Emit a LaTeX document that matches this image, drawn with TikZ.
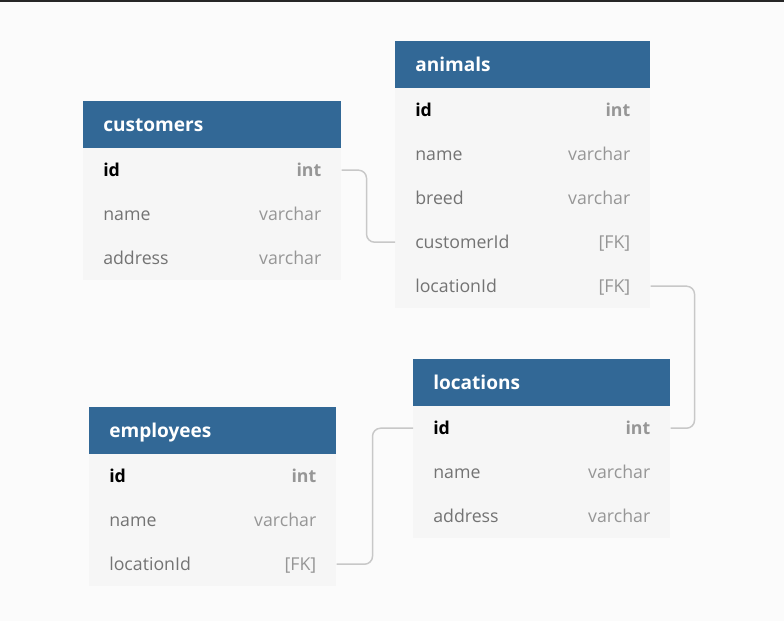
\documentclass[tikz,border=0pt]{standalone}
\usepackage{fontspec}
\setmainfont{Open Sans}
\usepackage{xcolor}
\usetikzlibrary{positioning}

\definecolor{headblue}{RGB}{50,104,150}
\definecolor{bodygray}{RGB}{246,246,246}
\definecolor{pagegray}{RGB}{251,251,251}
\definecolor{fieldgray}{RGB}{115,115,115}
\definecolor{typegray}{RGB}{150,150,150}
\definecolor{linkgray}{RGB}{200,200,200}
\newcommand{\pk}[2]{\textbf{\color{black}#1}\hfill\textbf{\color{typegray}#2}}
\newcommand{\fld}[2]{#1\hfill{\color{typegray}#2}}

\begin{document}
\begin{tikzpicture}[x=0.75pt, y=-0.75pt,
        cell/.style={anchor=north west, inner xsep=15pt, inner ysep=0pt, align=left,
            text height=12.5pt, text depth=3pt, font=\fontsize{13.3}{16}\selectfont},
        head/.style={cell, fill=headblue, text=white, minimum height=35.25pt,
            font=\fontsize{14.3}{17}\selectfont\bfseries},
        row/.style={cell, fill=bodygray, text=fieldgray, minimum height=33.1pt, below=-0.5pt of #1},
        link/.style={linkgray, line width=1.1pt, rounded corners=6pt}]
        \useasboundingbox (0, 0) rectangle (784, 621);
        \fill[pagegray] (0, 0) rectangle (784, 621);
        \fill[black!85] (0, 0) rectangle (784, 1.5);
        % customers
        \node[head, text width=163.5pt] (cust) at (83, 101) {customers};
        \node[row=cust, text width=163.5pt] (cust-id) {\pk{id}{int}};
        \node[row=cust-id, text width=163.5pt] (cust-name) {\fld{name}{varchar}};
        \node[row=cust-name, text width=163.5pt] (cust-addr) {\fld{address}{varchar}};
        % animals
        \node[head, text width=161.25pt] (anim) at (395, 41) {animals};
        \node[row=anim, text width=161.25pt] (anim-id) {\pk{id}{int}};
        \node[row=anim-id, text width=161.25pt] (anim-name) {\fld{name}{varchar}};
        \node[row=anim-name, text width=161.25pt] (anim-breed) {\fld{breed}{varchar}};
        \node[row=anim-breed, text width=161.25pt] (anim-cust) {\fld{customerId}{[FK]}};
        \node[row=anim-cust, text width=161.25pt] (anim-loc) {\fld{locationId}{[FK]}};
        % locations
        \node[head, text width=162.75pt] (loc) at (413, 359) {locations};
        \node[row=loc, text width=162.75pt] (loc-id) {\pk{id}{int}};
        \node[row=loc-id, text width=162.75pt] (loc-name) {\fld{name}{varchar}};
        \node[row=loc-name, text width=162.75pt] (loc-addr) {\fld{address}{varchar}};
        % employees
        \node[head, text width=155.25pt] (emp) at (89, 407) {employees};
        \node[row=emp, text width=155.25pt] (emp-id) {\pk{id}{int}};
        \node[row=emp-id, text width=155.25pt] (emp-name) {\fld{name}{varchar}};
        \node[row=emp-name, text width=155.25pt] (emp-loc) {\fld{locationId}{[FK]}};
        % references
        \draw[link] (cust-id.east) -- ++(25, 0) |- (anim-cust.west);
        \draw[link] (anim-loc.east) -- ++(44, 0) |- (loc-id.east);
        \draw[link] (emp-loc.east) -- ++(36, 0) |- (loc-id.west);
    \end{tikzpicture}
\end{document}
